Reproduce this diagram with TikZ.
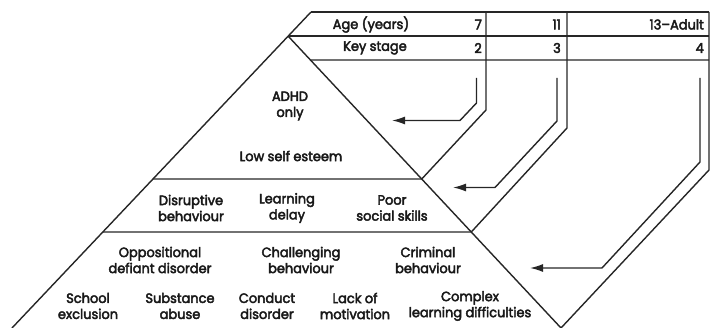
\documentclass[tikz,border=0pt]{standalone}
\usepackage{fontspec}
\setmainfont{Poppins}[FakeBold=3.2,FakeStretch=0.96]
\usetikzlibrary{arrows.meta,calc}
\tikzset{
  frame/.style={line width=1.4pt, draw=black!85},
  pointer/.style={line width=1.4pt, draw=black!85, -{Latex[length=13pt,width=8pt]}},
  lbl/.style={font=\fontsize{13.5}{16}\selectfont, text=black!90, align=center, inner sep=0pt},
  rlbl/.style={font=\fontsize{13.5}{16}\selectfont, text=black!90, anchor=east, inner sep=0pt}
}
\begin{document}
\begin{tikzpicture}[x=1pt,y=-1pt]
\useasboundingbox (0,0) rectangle (713,328);
% key points
\coordinate (tl) at (311,12);
\coordinate (tr) at (709,12);
\coordinate (apex) at (288,36);
\coordinate (bl) at (12,328);
\coordinate (br) at (561,328);
\coordinate (r36) at (709,36);
\coordinate (l60) at (intersection of apex--br and 0,60--10,60);
\coordinate (r60) at (709,60);
\coordinate (h1l) at (intersection of tl--bl and 0,179--10,179);
\coordinate (h1r) at (intersection of apex--br and 0,179--10,179);
\coordinate (h2l) at (intersection of tl--bl and 0,232--10,232);
\coordinate (h2r) at (intersection of apex--br and 0,232--10,232);
% column lines
\coordinate (c1t) at (486,12);
\coordinate (c1b) at (486,110);
\coordinate (c2t) at (567,12);
\coordinate (c2b) at (567,128);
\coordinate (c3b) at (709,170);
% arrows
\coordinate (a1s) at (476.5,78);
\coordinate (a1v) at (476.5,103);
\coordinate (a1h) at (460,120.5);
\coordinate (a1t) at (392,120.5);
\coordinate (a2s) at (557,78);
\coordinate (a2v) at (557,121);
\coordinate (a2h) at (495,187.5);
\coordinate (a2t) at (453,187.5);
\coordinate (a3s) at (700,78);
\coordinate (a3v) at (700,162);
\coordinate (a3h) at (602,268);
\coordinate (a3t) at (530,268);

% triangle and table frame
\draw[frame] (tl) -- (bl);
\draw[frame] (apex) -- (br);
\draw[frame] (tl) -- (tr);
\draw[frame] (apex) -- (r36);
\draw[frame] (l60) -- (r60);
\draw[frame] (h1l) -- (h1r);
\draw[frame] (h2l) -- (h2r);
\draw[frame] (c1t) -- (c1b) -- (h1r);
\draw[frame] (c2t) -- (c2b) -- (h2r);
\draw[frame] (tr) -- (c3b) -- (br);
% pointers
\draw[pointer] (a1s) -- (a1v) -- (a1h) -- (a1t);
\draw[pointer] (a2s) -- (a2v) -- (a2h) -- (a2t);
\draw[pointer] (a3s) -- (a3v) -- (a3h) -- (a3t);

% table text
\node[lbl] (age) at (371,24.5) {Age (years)};
\node[rlbl] (age7) at (482,24.5) {7};
\node[rlbl] (age11) at (561,24.5) {11};
\node[rlbl] (age13) at (704,24.5) {13–Adult};
\node[lbl] (ks) at (375,48) {Key stage};
\node[rlbl] (ks2) at (482,48) {2};
\node[rlbl] (ks3) at (561,48) {3};
\node[rlbl] (ks4) at (704,48) {4};

% triangle text
\node[lbl] (adhd) at (290,106) {ADHD\\only};
\node[lbl] (lse) at (291,156) {Low self esteem};
\node[lbl] (disr) at (191,208) {Disruptive\\behaviour};
\node[lbl] (ldel) at (287,208) {Learning\\delay};
\node[lbl] (poor) at (392,208) {Poor\\social skills};
\node[lbl] (odd) at (160,260) {Oppositional\\defiant disorder};
\node[lbl] (chal) at (301,260) {Challenging\\behaviour};
\node[lbl] (crim) at (428,260) {Criminal\\behaviour};
\node[lbl] (sch) at (88,306) {School\\exclusion};
\node[lbl] (sub) at (180,306) {Substance\\abuse};
\node[lbl] (cond) at (267,306) {Conduct\\disorder};
\node[lbl] (lack) at (355,306) {Lack of\\motivation};
\node[lbl] (comp) at (470,306) {Complex\\learning difficulties};
\end{tikzpicture}
\end{document}
